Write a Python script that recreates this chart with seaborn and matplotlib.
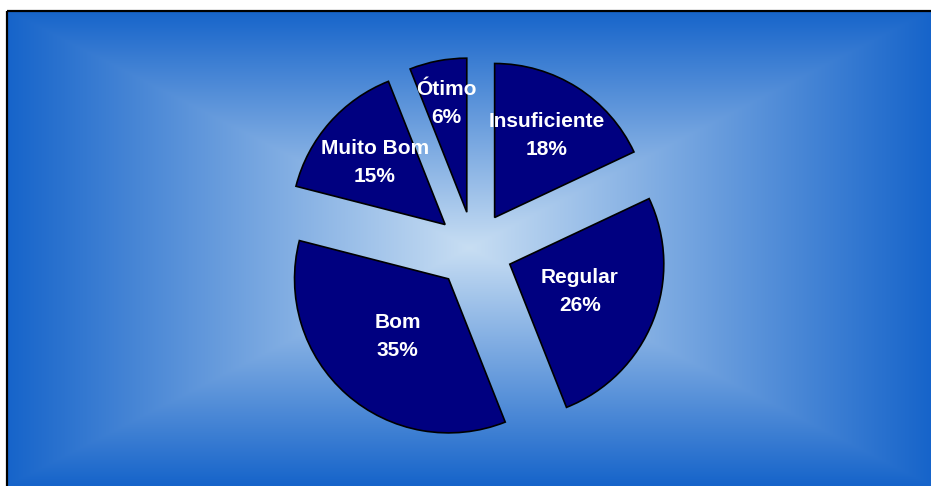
import numpy as np
import matplotlib
matplotlib.use("Agg")
import matplotlib.pyplot as plt
import seaborn as sns

# Datos de la gráfica (sentido horario desde arriba)
categorias = ["Insuficiente", "Regular", "Bom", "Muito Bom", "Ótimo"]
valores = [18, 26, 35, 15, 6]

# distancia de cada rótulo al vértice de su porción (fracción del radio)
dist_rotulo = [0.63, 0.49, 0.50, 0.61, 0.72]

sns.set_style("white")
plt.rcParams['font.family'] = ['Liberation Sans', 'DejaVu Sans']

W, H = 931, 486
fig = plt.figure(figsize=(W / 100, H / 100), dpi=100)
fig.patch.set_facecolor("white")

# Fondo con degradado rectangular desde el centro
ax_bg = fig.add_axes([0, 0, 1, 1])
x0, y0 = 6.5, 11
gw, gh = 600, 320
xx, yy = np.meshgrid(np.linspace(-1, 1, gw), np.linspace(-1, 1, gh))
t = np.maximum(np.abs(xx), np.abs(yy))
claro = np.array([200, 222, 243]) / 255
oscuro = np.array([22, 100, 202]) / 255
img = claro[None, None, :] * (1 - t[..., None]) + oscuro[None, None, :] * t[..., None]
ax_bg.imshow(img, extent=(x0, W, H, y0), aspect="auto", interpolation="bilinear")
ax_bg.plot([x0, W], [y0, y0], color="black", lw=1.6, solid_capstyle="butt")
ax_bg.plot([x0, x0], [y0, H], color="black", lw=1.6, solid_capstyle="butt")
ax_bg.set_xlim(0, W)
ax_bg.set_ylim(H, 0)
ax_bg.axis("off")

# Gráfica de torta
ax = fig.add_axes([0, 0, 1, 1])
ax.patch.set_alpha(0)
radio_px = 154
cx, cy = 474, 250
wedges, _ = ax.pie(valores, startangle=90, counterclock=False,
                   explode=[0.25] * len(valores),
                   colors=["#000080"] * len(valores),
                   wedgeprops=dict(edgecolor="black", linewidth=1.2))
ax.set_aspect("auto")
ax.set_xlim(-cx / radio_px, (W - cx) / radio_px)
ax.set_ylim(-(H - cy) / radio_px, cy / radio_px)
ax.axis("off")

for w, cat, v, d in zip(wedges, categorias, valores, dist_rotulo):
    ang = np.deg2rad((w.theta1 + w.theta2) / 2)
    px = w.center[0] + d * w.r * np.cos(ang)
    py = w.center[1] + d * w.r * np.sin(ang)
    ax.text(px, py, f"{cat}\n{v}%", ha="center", va="center",
            color="white", fontsize=15, fontweight="bold", linespacing=1.6)

fig.savefig("out.png", dpi=100)
